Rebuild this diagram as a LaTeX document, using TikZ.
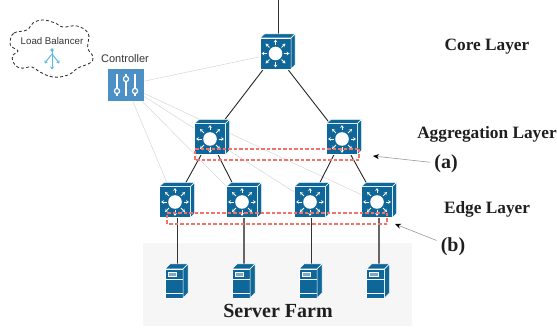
\documentclass[tikz,border=0pt]{standalone}
\usepackage{fontspec}
\setmainfont{Liberation Serif}
\newfontfamily\labelsans{Liberation Sans}
\usetikzlibrary{arrows.meta,backgrounds}
\definecolor{switchblue}{HTML}{0F6799}
\definecolor{controlblue}{HTML}{4C90C6}
\definecolor{balancerblue}{HTML}{5BBBE3}
\definecolor{grouped}{HTML}{F2736C}
\tikzset{
  switchbox/.style={draw=white,line width=0.6pt,fill=switchblue,minimum width=31,minimum height=31,inner sep=0},
  serverbox/.style={draw=white,line width=0.5pt,fill=switchblue,minimum width=18,minimum height=29,inner sep=0},
  sidepart/.style={draw=white,line width=0.5pt,fill=switchblue,line join=round},
  spoke/.style={draw=white,line width=0.8pt,-{Stealth[length=2.8pt,width=3.6pt,fill=white,line width=0pt]}},
  uplink/.style={line width=0.9pt,black!85},
  serverlink/.style={line width=1pt,black!80},
  ctrllink/.style={line width=0.5pt,black!16},
  groupbox/.style={draw=grouped,line width=1.1pt,dash pattern=on 3.5pt off 2pt},
  layername/.style={font=\fontsize{17.3}{20}\selectfont\bfseries,text=black!88,inner sep=0},
  notelabel/.style={font=\fontsize{20}{22}\selectfont\bfseries,text=black!88,inner sep=4pt},
  notearrow/.style={black!40,line width=0.6pt,-{Stealth[black,length=6pt,width=5pt]}},
  knob/.style={draw=white,line width=1.2pt,fill=controlblue},
}
\newcommand{\switchnode}[3]{
\begin{scope}[shift={(#2,#3)}]
\node[switchbox] (#1) at (0,0) {};
\draw[sidepart] (-15.5,-15.5) -- (-11,-19.5) -- (19.5,-19.5) -- (15.5,-15.5) -- cycle;
\draw[sidepart] (15.5,-15.5) -- (19.5,-19.5) -- (19.5,11.5) -- (15.5,15.5) -- cycle;
\fill[white] (0,0) circle (6.8);
\foreach \ang in {0,45,...,315}
  \draw[spoke] (\ang:8.5) -- (\ang:14);
\end{scope}
}
\newcommand{\servernode}[3]{
\begin{scope}[shift={(#2,#3)}]
\node[serverbox] (#1) at (0,0) {};
\draw[sidepart] (-9,-14.5) -- (-4,-19.5) -- (14,-19.5) -- (9,-14.5) -- cycle;
\draw[sidepart] (9,-14.5) -- (14,-19.5) -- (14,9.5) -- (9,14.5) -- cycle;
\draw[white,line width=0.6pt,fill=switchblue!55] (-6.2,-11.5) rectangle (2.5,-7.5);
\draw[white,line width=0.7pt] (-9,-3.8) -- (9,-3.8);
\draw[white,line width=0.7pt] (-9,10.3) -- (9,10.3);
\end{scope}
}
\begin{document}
\begin{tikzpicture}[x=1pt,y=-1pt]
\useasboundingbox (0,0) rectangle (557,331);

\draw[black!85,line width=0.8pt,dash pattern=on 3pt off 2.2pt] plot[smooth cycle,tension=0.7] coordinates {(10,42) (14,33) (27,30) (33,23) (43,20) (55,23) (63,27) (77,26) (88,33) (88,43) (88,49) (93,57) (90,63) (78,68) (68,75) (53,77) (40,72) (32,67) (20,68) (13,62) (13,55) (18,51) (12,47)};
\node[font=\labelsans\fontsize{9.7}{11}\selectfont,text=black!80,inner sep=0] (balancer) at (52,41.5) {Load Balancer};
\fill[balancerblue] (52,50) circle (1.9);
\draw[balancerblue,line width=1pt,-{Stealth[length=3pt,width=4pt]}] (52,50) -- (52,69.5);
\draw[balancerblue,line width=1pt,-{Stealth[length=3pt,width=4pt]}] (52,54) -- (44.5,63.5);
\draw[balancerblue,line width=1pt,-{Stealth[length=3pt,width=4pt]}] (52,54) -- (59.5,63.5);

\node[fill=controlblue,minimum width=36,minimum height=32,inner sep=0] (controller) at (126,85) {};
\node[font=\labelsans\fontsize{11}{13}\selectfont,text=black!80,inner sep=0] (controllername) at (125,59) {Controller};
\draw[white,line width=1.2pt] (117,74) -- (117,96);
\draw[white,line width=1.2pt] (126,74) -- (126,96);
\draw[white,line width=1.2pt] (135,74) -- (135,96);
\draw[knob] (117,91) circle (2.6);
\draw[knob] (126,79) circle (2.6);
\draw[knob] (135,91) circle (2.6);

\switchnode{core}{275.5}{53.5}
\switchnode{aggone}{210}{139}
\switchnode{aggtwo}{342}{139}
\switchnode{edgeone}{175}{202}
\switchnode{edgetwo}{242}{202}
\switchnode{edgethree}{310}{202}
\switchnode{edgefour}{377}{202}

\servernode{serverone}{174}{283.5}
\servernode{servertwo}{241}{283.5}
\servernode{serverthree}{308}{283.5}
\servernode{serverfour}{375.5}{283.5}

\coordinate (uplinktop) at (278,0);
\coordinate (topone) at (177,264);
\coordinate (toptwo) at (244,264);
\coordinate (topthree) at (311,264);
\coordinate (topfour) at (379,264);

\begin{scope}[on background layer]
\fill[black!3.5] (143,243) rectangle (412,326);
\draw[ctrllink] (controller) -- (core);
\draw[ctrllink] (controller) -- (edgeone);
\draw[ctrllink] (controller) -- (edgetwo);
\draw[ctrllink] (controller) -- (edgethree);
\draw[ctrllink] (controller) -- (edgefour);
\draw[serverlink] (uplinktop) -- (uplinktop |- core.north);
\draw[uplink] (core) -- (aggone);
\draw[uplink] (core) -- (aggtwo);
\draw[uplink] (aggone) -- (edgeone);
\draw[uplink] (aggone) -- (edgetwo);
\draw[uplink] (aggtwo) -- (edgethree);
\draw[uplink] (aggtwo) -- (edgefour);
\draw[serverlink] (topone |- edgeone.south) -- (topone);
\draw[serverlink,black!60,line width=1.2pt] (toptwo |- edgetwo.south) -- (toptwo);
\draw[serverlink] (topthree |- edgethree.south) -- (topthree);
\draw[serverlink,black!60,line width=1.2pt] (topfour |- edgefour.south) -- (topfour);
\end{scope}

\draw[groupbox] (195,149) -- (359,149);
\draw[groupbox] (359,149) -- (359,160);
\draw[groupbox] (359,160) -- (195,160);
\draw[groupbox] (195,160) -- (195,149);
\draw[groupbox] (167,213) -- (387,213);
\draw[groupbox] (387,213) -- (387,224);
\draw[groupbox] (387,224) -- (167,224);
\draw[groupbox] (167,224) -- (167,213);

\node[layername] (corelayer) at (487,47) {Core Layer};
\node[layername] (agglayer) at (487,134) {Aggregation Layer};
\node[layername] (edgelayer) at (487,209) {Edge Layer};
\node[font=\fontsize{20}{22}\selectfont\bfseries,text=black!88,inner sep=0] (farm) at (278,311) {Server Farm};

\node[notelabel] (labela) at (446,164) {(a)};
\node[notelabel] (labelb) at (453,247) {(b)};
\coordinate (tipa) at (373,156);
\coordinate (tipb) at (395,224);
\draw[notearrow] (labela) -- (tipa);
\draw[notearrow] (labelb) -- (tipb);
\end{tikzpicture}
\end{document}
